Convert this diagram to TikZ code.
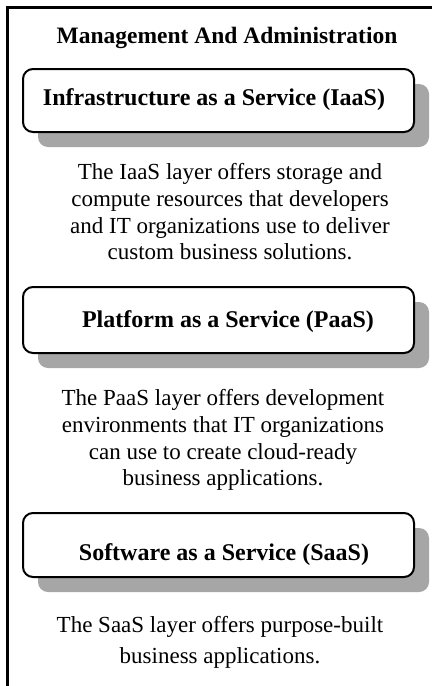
\documentclass[tikz,border=0pt]{standalone}
\usepackage{fontspec}
\setmainfont{Liberation Serif}
\usetikzlibrary{shadows}
\tikzset{
  layerbox/.style={draw, line width=2pt, rounded corners=10pt, fill=white,
    minimum width=391pt, inner sep=0pt,
    drop shadow={shadow xshift=15pt, shadow yshift=-15pt, fill=black!35, opacity=1}},
  layerlabel/.style={anchor=base, inner sep=0pt, font=\fontsize{24}{28}\selectfont\bfseries},
  desc/.style={anchor=north, inner sep=0pt, align=center},
}
\begin{document}
\begin{tikzpicture}[x=1pt,y=-1pt]
\useasboundingbox (0,0) rectangle (432,686);
\fill[white] (0,0) rectangle (432,686);
% frame
\draw[line width=2.5pt] (7.5,686) -- (7.5,7.5) -- (432,7.5);
% title
\node[anchor=base, inner sep=0pt, font=\fontsize{23.5}{28}\selectfont\bfseries] (title) at (227,43) {Management And Administration};
% IaaS
\node[layerbox, minimum height=63pt] (iaas) at (218.5,100.5) {};
\node[layerlabel] (iaaslabel) at (214,105) {Infrastructure as a Service (IaaS)};
\node[desc, font=\fontsize{23}{26.7}\selectfont] (iaasdesc) at (230,163.3) {The IaaS layer offers storage and\\compute resources that developers\\and IT organizations use to deliver\\custom business solutions.};
% PaaS
\node[layerbox, minimum height=66pt] (paas) at (218.5,320) {};
\node[layerlabel] (paaslabel) at (228,327.7) {Platform as a Service (PaaS)};
\node[desc, font=\fontsize{23}{26.7}\selectfont] (paasdesc) at (223,389.3) {The PaaS layer offers development\\environments that IT organizations\\can use to create cloud-ready\\business applications.};
% SaaS
\node[layerbox, minimum height=64pt] (saas) at (218.5,545) {};
\node[layerlabel] (saaslabel) at (224,560) {Software as a Service (SaaS)};
\node[desc, font=\fontsize{23}{31}\selectfont] (saasdesc) at (220,616.3) {The SaaS layer offers purpose-built\\business applications.};
\end{tikzpicture}
\end{document}
